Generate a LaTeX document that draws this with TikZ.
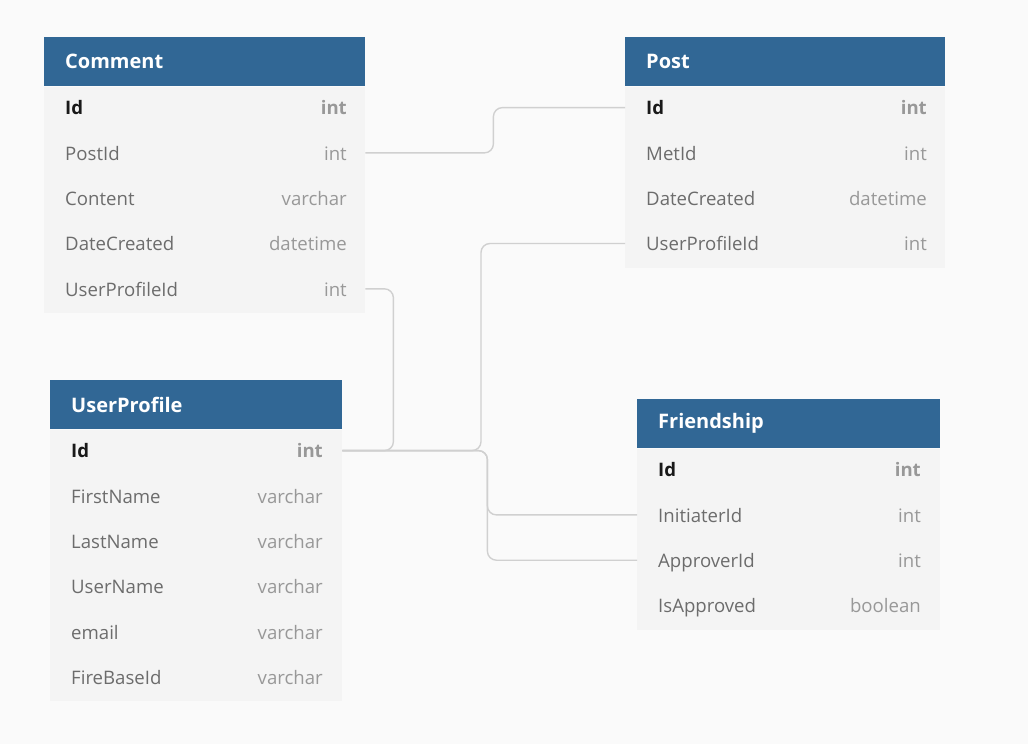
\documentclass[tikz,border=0pt]{standalone}
\usepackage{fontspec}
\setmainfont{Open Sans}
\usepackage{xcolor}
\usetikzlibrary{calc}

\definecolor{hdrblue}{RGB}{49,103,149}
\definecolor{bodygray}{RGB}{244,244,244}
\definecolor{pagegray}{RGB}{250,250,250}
\definecolor{fldgray}{RGB}{108,108,108}
\definecolor{typgray}{RGB}{152,152,152}
\definecolor{linkgray}{RGB}{208,208,208}

\tikzset{
  tblhead/.style={fill=hdrblue, text=white, font=\fontsize{20}{23}\selectfont\bfseries, anchor=north west, minimum height=49, inner xsep=21, inner ysep=0, align=left, yshift=-0.5pt},
  tblbody/.style={fill=bodygray, anchor=north west, inner sep=0},
  fname/.style={text=fldgray, font=\fontsize{18.6}{21}\selectfont, anchor=base west, yshift=-7.2pt, inner sep=0},
  ftype/.style={text=typgray, font=\fontsize{18.6}{21}\selectfont, anchor=base east, yshift=-7.2pt, inner sep=0},
  pkname/.style={fname, text=black!90, font=\fontsize{18.6}{21}\selectfont\bfseries},
  pktype/.style={ftype, font=\fontsize{18.6}{21}\selectfont\bfseries},
  link/.style={draw=linkgray, line width=1.4, rounded corners=9},
}

\begin{document}
\begin{tikzpicture}[x=1pt,y=-1pt]
\fill[pagegray] (0,0) rectangle (1028,744);
\useasboundingbox (0,0) rectangle (1028,744);

%Comment table
\node[tblhead, text width=279] (cm) at (44,36.5) {Comment};
\node[tblbody, minimum width=321, minimum height=226.5] (cm-body) at (cm.south west) {};
\node[pkname] (cm-Id) at (65,107.6) {Id};
\node[pktype] (cm-Id-t) at (347,107.6) {int};
\foreach \f/\t [count=\i] in {PostId/int, Content/varchar, DateCreated/datetime, UserProfileId/int}
{
  \node[fname] (cm-\f) at (65,{107.6+45.3*\i}) {\f};
  \node[ftype] (cm-\f-t) at (347,{107.6+45.3*\i}) {\t};
}

%Post table
\node[tblhead, text width=278] (po) at (625,36.5) {Post};
\node[tblbody, minimum width=320, minimum height=181.2] (po-body) at (po.south west) {};
\node[pkname] (po-Id) at (646,107.6) {Id};
\node[pktype] (po-Id-t) at (927,107.6) {int};
\foreach \f/\t [count=\i] in {MetId/int, DateCreated/datetime, UserProfileId/int}
{
  \node[fname] (po-\f) at (646,{107.6+45.3*\i}) {\f};
  \node[ftype] (po-\f-t) at (927,{107.6+45.3*\i}) {\t};
}

%UserProfile table
\node[tblhead, text width=250] (up) at (50,379.5) {UserProfile};
\node[tblbody, minimum width=292, minimum height=271.8] (up-body) at (up.south west) {};
\node[pkname] (up-Id) at (71,450.6) {Id};
\node[pktype] (up-Id-t) at (323,450.6) {int};
\foreach \f/\t [count=\i] in {FirstName/varchar, LastName/varchar, UserName/varchar, email/varchar, FireBaseId/varchar}
{
  \node[fname] (up-\f) at (71,{450.6+45.3*\i}) {\f};
  \node[ftype] (up-\f-t) at (323,{450.6+45.3*\i}) {\t};
}

%Friendship table
\node[tblhead, text width=261] (fr) at (637,398.5) {Friendship};
\node[tblbody, minimum width=303, minimum height=181.2] (fr-body) at (fr.south west) {};
\node[pkname] (fr-Id) at (658,469.6) {Id};
\node[pktype] (fr-Id-t) at (921,469.6) {int};
\foreach \f/\t [count=\i] in {InitiaterId/int, ApproverId/int, IsApproved/boolean}
{
  \node[fname] (fr-\f) at (658,{469.6+45.3*\i}) {\f};
  \node[ftype] (fr-\f-t) at (921,{469.6+45.3*\i}) {\t};
}

%Links
\draw[link] ([yshift=7.2pt]cm-body.east |- cm-PostId-t.base) -- ++(128,0) |- ([yshift=7.2pt]po-body.west |- po-Id.base);
\draw[link] ([yshift=7.2pt]cm-body.east |- cm-UserProfileId-t.base) -- ++(28,0) |- ([yshift=7.2pt]up-body.east |- up-Id.base);
\draw[link] ([yshift=7.2pt]po-body.west |- po-UserProfileId.base) -- ++(-144,0) |- ([yshift=7.2pt]up-body.east |- up-Id.base);
\draw[link] ([yshift=7.2pt]up-body.east |- up-Id.base) -- ++(145,0) |- ([yshift=7.2pt]fr-body.west |- fr-InitiaterId.base);
\draw[link] ([yshift=7.2pt]up-body.east |- up-Id.base) -- ++(145,0) |- ([yshift=7.2pt]fr-body.west |- fr-ApproverId.base);

\end{tikzpicture}
\end{document}
